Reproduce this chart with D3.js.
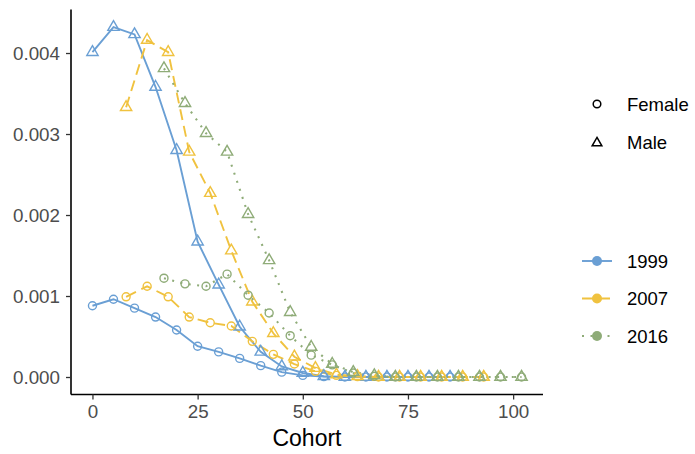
<!DOCTYPE html>
<html><head><meta charset="utf-8">
<script src="https://cdn.jsdelivr.net/npm/d3@7"></script>
<style>body{margin:0;background:#fff}svg{display:block}text{font-family:"Liberation Sans",Arial,sans-serif}</style>
</head><body>
<svg id="chart" width="695" height="454"></svg>
<script>
const years = ["1999", "2007", "2016"];
const sexes = ["Female", "Male"];
const cohort1999 = [0,5,10,15,20,25,30,35,40,45,50,55,60,65,70,75,80,85];
const cohort2007 = [8,13,18,23,28,33,38,43,48,53,58,63,68,73,78,83,88,93];
const cohort2016 = [17,22,27,32,37,42,47,52,57,62,67,72,77,82,87,92,97,102];
const female1999 = [0.00088,0.00096,0.00085,0.00074,0.00058,0.00038,0.00031,0.00023,0.00014,0.00006,0.00002,0.000005,0,0,0,0,0,0];
const male1999   = [0.00401,0.00432,0.00423,0.00358,0.00280,0.00167,0.00114,0.00062,0.00031,0.00013,0.00005,0.00001,0,0,0,0,0,0];
const female2007 = [0.00099,0.00112,0.00099,0.00074,0.00067,0.00063,0.00044,0.00028,0.00016,0.00007,0.00002,0.000005,0,0,0,0,0,0];
const male2007   = [0.00333,0.00416,0.00401,0.00278,0.00227,0.00156,0.00093,0.00054,0.00025,0.00011,0.00003,0.00001,0,0,0,0,0,0];
const female2016 = [0.00122,0.00115,0.00112,0.00127,0.00101,0.00079,0.00051,0.00027,0.00015,0.00005,0.00001,0,0,0,0,0,0,0];
const male2016   = [0.00381,0.00338,0.00301,0.00278,0.00201,0.00144,0.00080,0.00037,0.00016,0.00006,0.00002,0,0,0,0,0,0,0];
const xTicks = [0,25,50,75,100];
const yTicks = [0,0.001,0.002,0.003,0.004];

const colors = {"1999":"#6a9fd4","2007":"#f0c23f","2016":"#8fac78"};
const dashes = {"1999":null,"2007":"11,6","2016":"2,6.5"};
const cohorts = {"1999":cohort1999,"2007":cohort2007,"2016":cohort2016};
const vals = {"1999":{Female:female1999,Male:male1999},"2007":{Female:female2007,Male:male2007},"2016":{Female:female2016,Male:male2016}};

const svg = d3.select("#chart");
const x = d3.scaleLinear().domain([-5.1,107.1]).range([71,543]);
const y = d3.scaleLinear().domain([-0.000216,0.004536]).range([394.5,9.6]);

const series = [];
years.forEach(yr=>sexes.forEach(s=>{
  series.push({year:yr,sex:s,pts:cohorts[yr].map((c,i)=>({c,v:vals[yr][s][i]}))});
}));

const line = d3.line().x(d=>x(d.c)).y(d=>y(d.v));
const g = svg.append("g");
series.forEach(se=>{
  g.append("path").attr("d",line(se.pts)).attr("fill","none")
   .attr("stroke",colors[se.year]).attr("stroke-width",se.year==="2016"?2.1:1.9)
   .attr("stroke-dasharray",dashes[se.year]);
});
function tri(cx,cy,s){
  const r=1.5551*s, xc=1.3468*s, yc=0.7776*s;
  return `M${cx},${cy-r}L${cx+xc},${cy+yc}L${cx-xc},${cy+yc}Z`;
}
series.forEach(se=>{
  se.pts.forEach(d=>{
    if(se.sex==="Female"){
      g.append("circle").attr("cx",x(d.c)).attr("cy",y(d.v)).attr("r",4)
       .attr("fill","none").attr("stroke",colors[se.year]).attr("stroke-width",1.4);
    } else {
      g.append("path").attr("d",tri(x(d.c),y(d.v),4.2))
       .attr("fill","none").attr("stroke",colors[se.year]).attr("stroke-width",1.4);
    }
  });
});

// axes
const xAxis = svg.append("g").attr("transform","translate(0,394.5)")
  .call(d3.axisBottom(x).tickValues(xTicks).tickSize(5).tickPadding(5).tickFormat(d3.format("d")));
const yAxis = svg.append("g").attr("transform","translate(71,0)")
  .call(d3.axisLeft(y).tickValues(yTicks).tickSize(5).tickPadding(6).tickFormat(d3.format(".3f")));
[xAxis,yAxis].forEach(a=>{
  a.select(".domain").attr("stroke","#000").attr("stroke-width",1.6);
  a.selectAll(".tick line").attr("stroke","#333").attr("stroke-width",1.3);
  a.selectAll(".tick text").attr("fill","#4d4d4d").style("font-size","18.8px");
});
xAxis.select(".domain").attr("d","M71,0H543");
yAxis.select(".domain").attr("d","M0,9.6V394.5");

svg.append("text").attr("x",307).attr("y",446).attr("text-anchor","middle")
  .style("font-size","23px").attr("fill","#000").text("Cohort");

// legend: shape
const lg = svg.append("g");
sexes.forEach((s,i)=>{
  const cy = 104 + i*38;
  if(s==="Female") lg.append("circle").attr("cx",597).attr("cy",cy).attr("r",3.8).attr("fill","none").attr("stroke","#000").attr("stroke-width",1.5);
  else lg.append("path").attr("d",tri(597,cy+1,3.6)).attr("fill","none").attr("stroke","#000").attr("stroke-width",1.5);
  lg.append("text").attr("x",627).attr("y",cy).attr("dy","0.36em").style("font-size","18.5px").attr("fill","#000").text(s);
});
years.forEach((yr,i)=>{
  const cy = 261 + i*37.5;
  lg.append("line").attr("x1",582).attr("x2",612).attr("y1",cy).attr("y2",cy)
    .attr("stroke",colors[yr]).attr("stroke-width",yr==="2016"?2.1:1.9).attr("stroke-dasharray",dashes[yr]);
  lg.append("circle").attr("cx",597).attr("cy",cy).attr("r",5).attr("fill",colors[yr]);
  lg.append("text").attr("x",627).attr("y",cy).attr("dy","0.36em").style("font-size","18.5px").attr("fill","#000").text(yr);
});
</script>
</body></html>
